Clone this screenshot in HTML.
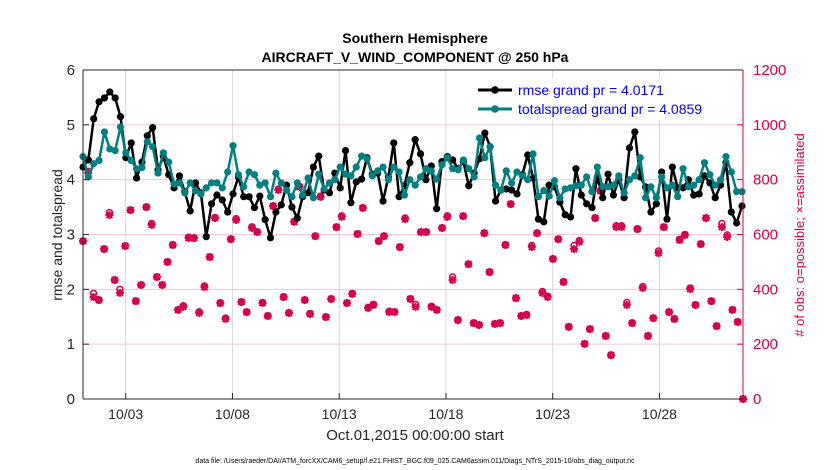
<!DOCTYPE html>
<html><head><meta charset="utf-8"><style>
html,body{margin:0;padding:0;background:#fff;}
svg{display:block;font-family:"Liberation Sans",Arial,sans-serif;}
</style></head><body>
<svg id="chart" width="830" height="470" viewBox="0 0 830 470">
<rect width="830" height="470" fill="#fff"/>
<text x="415" y="43" font-size="14" font-weight="bold" text-anchor="middle">Southern Hemisphere</text>
<text x="415" y="62" font-size="14" font-weight="bold" text-anchor="middle">AIRCRAFT_V_WIND_COMPONENT @ 250 hPa</text>
<g id="grid"></g>
<g id="marks"></g>
<g id="axes"></g>
<g>
<rect x="472" y="78" width="266" height="42" fill="#fff"/>
<g>
<line x1="478" y1="90" x2="512" y2="90" stroke="#000" stroke-width="3"/>
<circle cx="495" cy="90" r="3.8" fill="#000"/>
<text x="518" y="95" font-size="14" fill="#0000ff">rmse grand pr = 4.0171</text></g>
<g>
<line x1="478" y1="109" x2="512" y2="109" stroke="#008080" stroke-width="3"/>
<circle cx="495" cy="109" r="3.8" fill="#008080"/>
<text x="518" y="114" font-size="14" fill="#0000ff">totalspread grand pr = 4.0859</text></g>
</g>
<text x="415" y="440" font-size="15" text-anchor="middle" fill="#262626">Oct.01,2015 00:00:00 start</text>
<text transform="translate(62,235) rotate(-90)" font-size="14" text-anchor="middle" fill="#262626">rmse and totalspread</text>
<text transform="translate(804,235) rotate(-90)" font-size="13" text-anchor="middle" fill="#d6004f"># of obs: o=possible; ×=assimilated</text>
<text x="415" y="463" font-size="7" text-anchor="middle" fill="#000">data file: /Users/raeder/DAI/ATM_forcXX/CAM6_setup/f.e21.FHIST_BGC.f09_025.CAM6assim.011/Diags_NTrS_2015-10/obs_diag_output.nc</text>
</svg>
<script>
const dateTicks = ["10/03","10/08","10/13","10/18","10/23","10/28"];
const dateTickDays = [2,7,12,17,22,27];
const leftTicks = [0,1,2,3,4,5,6];
const rightTicks = [0,200,400,600,800,1000,1200];
const rmse = [4.23,4.36,5.11,5.42,5.49,5.6,5.49,5.15,4.4,4.67,4.03,4.32,4.8,4.95,4.18,4.42,4.09,3.85,4.07,3.78,3.43,3.94,3.76,2.96,3.56,3.72,3.63,3.41,3.74,4.05,3.69,3.69,3.49,3.70,3.27,2.94,3.41,3.54,3.9,3.5,3.3,3.69,3.76,
4.23,4.43,3.81,3.76,4.12,3.85,4.53,3.58,3.96,4.01,4.4,4.1,4.12,3.61,4.05,4.67,3.69,3.89,4.31,4.73,4.47,4.0,4.25,3.47,4.33,4.42,4.36,4.2,4.33,3.89,4.12,4.38,4.85,4.6,3.61,3.81,3.83,3.81,3.74,4.09,4.45,
4.03,3.28,3.23,3.9,3.87,3.59,3.36,3.32,4.2,3.72,3.56,3.49,4.05,3.67,4.1,3.72,4.0,3.67,4.58,4.87,4.05,3.87,3.41,3.56,4.14,3.28,4.23,3.85,3.85,4.0,3.72,3.74,4.07,3.94,3.67,3.9,4.31,3.41,3.21,3.52];
const totalspread = [4.42,4.05,4.29,4.35,4.87,4.56,4.53,4.96,4.49,4.35,4.2,4.22,4.69,4.6,4.12,4.49,4.32,3.92,3.94,3.76,3.94,3.8,3.74,3.85,3.94,3.94,3.85,4.14,4.62,4.09,3.87,4.14,4.09,3.9,3.94,3.69,4.12,3.94,3.81,3.69,3.94,3.72,4.03,
3.67,4.1,3.83,3.94,4.0,4.23,4.1,4.07,4.23,4.43,4.38,4.07,4.16,4.23,4.0,4.23,4.14,3.72,4.0,3.9,4.05,4.2,4.16,4.01,4.27,4.4,4.2,4.18,4.36,4.2,4.05,4.76,4.4,4.6,3.9,3.81,4.16,3.94,4.14,4.07,4.0,
4.47,3.69,3.8,3.7,3.98,3.67,3.83,3.85,3.89,3.9,4.05,3.78,4.23,3.87,3.87,3.9,4.07,3.76,4.0,4.07,4.4,3.67,3.87,3.67,4.05,3.85,3.9,3.69,4.2,3.87,3.9,4.0,4.31,4.09,3.9,4.0,4.42,4.14,3.78,3.78];
const obsAssim = [576,824,372,361,547,671,434,387,558,689,357,416,700,635,445,416,500,562,325,336,587,587,314,408,518,660,350,292,583,653,354,317,624,609,350,303,704,762,372,314,646,773,361,
310,594,737,299,365,627,664,350,383,602,697,332,343,576,594,317,317,554,656,365,336,609,609,336,325,624,664,434,288,667,492,277,270,605,463,274,277,562,711,368,303,
306,554,605,387,372,511,583,427,263,547,573,201,255,660,759,230,160,627,627,343,277,620,405,230,295,532,627,317,292,580,598,401,343,565,660,357,266,627,591,325,281,0];
const obsPossible = [576,830,385,361,547,680,434,400,558,689,357,416,700,640,445,416,500,562,325,340,590,587,318,412,518,662,350,295,583,658,354,317,628,609,352,303,704,765,372,314,648,776,361,
312,594,740,299,365,627,668,350,385,602,697,334,345,576,594,320,318,554,660,365,345,609,609,338,325,624,668,445,288,667,492,277,270,605,463,274,277,562,711,368,303,
308,560,605,392,375,511,583,427,263,560,578,201,255,660,759,230,160,632,632,352,277,620,410,230,295,540,627,317,292,582,600,405,343,565,660,357,266,640,598,325,281,0];

const NS="http://www.w3.org/2000/svg";
const X0=83,X1=743,Y0=399,Y1=70,DAYW=21.35;
function xDay(d){return X0+d*DAYW;}
function xIdx(i,n,end){return X0+i*((end-X0)/(n-1));}
function yL(v){return Y0-(v/6)*(Y0-Y1);}
function yR(v){return Y0-(v/1200)*(Y0-Y1);}
function mk(tag,attrs,parent){const e=document.createElementNS(NS,tag);for(const k in attrs)e.setAttribute(k,attrs[k]);parent.appendChild(e);return e;}
const grid=document.getElementById('grid'),marks=document.getElementById('marks'),axes=document.getElementById('axes');

dateTickDays.forEach((d,i)=>{
  const l=mk('line',{x1:xDay(d),x2:xDay(d),y1:Y1,y2:Y0,stroke:'#d8d8d8','stroke-width':1},grid);
  
  
  const t=mk('line',{x1:xDay(d),x2:xDay(d),y1:Y0,y2:Y0-6,stroke:'#262626','stroke-width':1},axes);
  
  
  const tx=mk('text',{x:xDay(d),y:Y0+20,'font-size':14,'text-anchor':'middle',fill:'#262626'},axes);
  tx.textContent=dateTicks[i];
  
  
});
leftTicks.forEach(v=>{
  if(v>0&&v<6){const g=mk('line',{x1:X0,x2:X1,y1:yL(v),y2:yL(v),stroke:'#f5c6d8','stroke-width':1},grid);
  
  }
  const t=mk('line',{x1:X0,x2:X0+6,y1:yL(v),y2:yL(v),stroke:'#262626'},axes);
  
  
  const tx=mk('text',{x:X0-8,y:yL(v)+5,'font-size':15,'text-anchor':'end',fill:'#262626'},axes);
  tx.textContent=v;
  
  
});
rightTicks.forEach(v=>{
  const t=mk('line',{x1:X1,x2:X1-6,y1:yR(v),y2:yR(v),stroke:'#d6004f'},axes);
  
  
  const tx=mk('text',{x:X1+10,y:yR(v)+5,'font-size':15,'text-anchor':'start',fill:'#d6004f'},axes);
  tx.textContent=v;
  
  
});
let a=mk('line',{x1:X0,x2:X1,y1:Y1,y2:Y1,stroke:'#262626'},axes);


a=mk('line',{x1:X0,x2:X1,y1:Y0,y2:Y0,stroke:'#262626'},axes);


a=mk('line',{x1:X0,x2:X0,y1:Y1,y2:Y0,stroke:'#262626'},axes);


a=mk('line',{x1:X1,x2:X1,y1:Y1,y2:Y0,stroke:'#d6004f'},axes);



function star(cx,cy,parent){
  const g=mk('g',{stroke:'#d6004f','stroke-width':2},parent);
  mk('line',{x1:cx-4,x2:cx+4,y1:cy,y2:cy},g);
  mk('line',{x1:cx,x2:cx,y1:cy-4,y2:cy+4},g);
  mk('line',{x1:cx-3,x2:cx+3,y1:cy-3,y2:cy+3},g);
  mk('line',{x1:cx-3,x2:cx+3,y1:cy+3,y2:cy-3},g);
  mk('circle',{cx:cx,cy:cy,r:2.5,fill:'#d6004f',stroke:'none'},g);
  return g;
}
obsPossible.forEach((v,i)=>{
  const c=mk('circle',{cx:xIdx(i,obsPossible.length,X1),cy:yR(v),r:3,fill:'none',stroke:'#d6004f','stroke-width':1.5},marks);
  
  
});
obsAssim.forEach((v,i)=>{
  const g=star(xIdx(i,obsAssim.length,X1),yR(v),marks);
  
  
});
function series(vals,color,name){
  const n=vals.length;
  const pts=vals.map((v,i)=>xIdx(i,n,742)+','+yL(v)).join(' ');
  const p=mk('polyline',{points:pts,fill:'none',stroke:color,'stroke-width':2.5,'stroke-linejoin':'round'},marks);
  
  
  vals.forEach((v,i)=>{
    const c=mk('circle',{cx:xIdx(i,n,742),cy:yL(v),r:3.6,fill:color},marks);
    
    
  });
}
series(rmse,'#000000','rmse');
series(totalspread,'#008080','totalspread');
</script>
</body></html>
